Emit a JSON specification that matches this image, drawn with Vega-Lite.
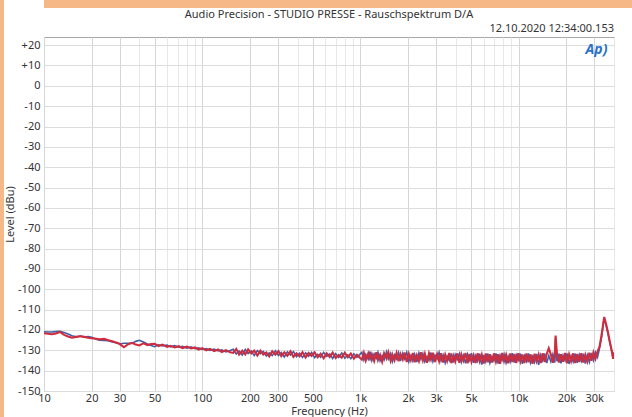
{
 "$schema": "https://vega.github.io/schema/vega-lite/v6.json",
 "padding": 0,
 "spacing": 0,
 "background": "white",
 "config": {"font": "Noto Sans", "view": {"stroke": "#a8a8a8", "strokeWidth": 1}, "concat": {"spacing": 0}},
 "hconcat": [
  {"width": 4, "height": 417, "view": {"fill": "#f6b887", "stroke": null},
   "data": {"values": [{"k": 0}]}, "mark": {"type": "point", "size": 0, "opacity": 0}, "encoding": {}},
  {"spacing": 0, "vconcat": [
   {"width": 628, "height": 8, "view": {"fill": "#f6b887", "stroke": null},
    "data": {"values": [{"k": 0}]}, "mark": {"type": "point", "size": 0, "opacity": 0}, "encoding": {}},
   {
    "width": 570, "height": 354,
    "data": {"values": [
  {"hz":10,"ch1":-120.9,"ch2":-121.6},{"hz":10.6,"ch1":-121.0,"ch2":-121.9},{"hz":11.2,"ch1":-121.0,"ch2":-122.1},{"hz":11.9,"ch1":-120.8,"ch2":-121.7},
  {"hz":12.6,"ch1":-120.7,"ch2":-121.0},{"hz":13.4,"ch1":-121.2,"ch2":-122.4},{"hz":14.2,"ch1":-122.0,"ch2":-123.2},{"hz":15,"ch1":-122.8,"ch2":-123.8},
  {"hz":16,"ch1":-123.3,"ch2":-123.4},{"hz":17,"ch1":-123.0,"ch2":-123.1},{"hz":18,"ch1":-123.5,"ch2":-123.4},{"hz":19,"ch1":-123.3,"ch2":-123.8},
  {"hz":20,"ch1":-123.6,"ch2":-124.0},{"hz":21.3,"ch1":-124.5,"ch2":-124.3},{"hz":22.5,"ch1":-125.0,"ch2":-124.6},{"hz":24,"ch1":-125.1,"ch2":-124.4},
  {"hz":25.5,"ch1":-125.3,"ch2":-125.0},{"hz":27,"ch1":-125.9,"ch2":-125.6},{"hz":28.5,"ch1":-126.3,"ch2":-126.2},{"hz":30,"ch1":-126.9,"ch2":-126.8},
  {"hz":32,"ch1":-126.5,"ch2":-128.5},{"hz":34,"ch1":-126.5,"ch2":-127.0},{"hz":36,"ch1":-126.6,"ch2":-126.3},{"hz":38,"ch1":-125.6,"ch2":-127.2},
  {"hz":40,"ch1":-125.1,"ch2":-127.6},{"hz":42.5,"ch1":-125.9,"ch2":-126.6},{"hz":45,"ch1":-126.9,"ch2":-127.4},{"hz":47.5,"ch1":-127.6,"ch2":-126.9},
  {"hz":50,"ch1":-128.2,"ch2":-126.8},{"hz":53,"ch1":-127.3,"ch2":-127.9},{"hz":56,"ch1":-127.8,"ch2":-127.2},{"hz":60,"ch1":-127.4,"ch2":-128.3},
  {"hz":63,"ch1":-128.3,"ch2":-127.8},{"hz":67,"ch1":-127.7,"ch2":-128.6},{"hz":71,"ch1":-128.5,"ch2":-128.0},{"hz":75,"ch1":-128.0,"ch2":-128.9},
  {"hz":80,"ch1":-128.9,"ch2":-128.2},{"hz":85,"ch1":-128.3,"ch2":-129.1},{"hz":90,"ch1":-129.2,"ch2":-128.6},{"hz":95,"ch1":-128.8,"ch2":-129.6},
  {"hz":100,"ch1":-129.6,"ch2":-128.9},{"hz":106,"ch1":-129.1,"ch2":-130.0},{"hz":112,"ch1":-130.0,"ch2":-129.3},{"hz":119,"ch1":-129.4,"ch2":-130.4},
  {"hz":126,"ch1":-130.3,"ch2":-129.6},{"hz":133,"ch1":-129.8,"ch2":-130.8},{"hz":141,"ch1":-130.8,"ch2":-129.9},{"hz":150,"ch1":-130.1,"ch2":-131.0},
  {"hz":157,"ch1":-129.5,"ch2":-131.3},{"hz":164,"ch1":-131.8,"ch2":-129.3},{"hz":171,"ch1":-130.3,"ch2":-132.1},{"hz":179,"ch1":-132.3,"ch2":-130.2},
  {"hz":187,"ch1":-129.6,"ch2":-132.0},{"hz":195,"ch1":-131.6,"ch2":-129.5},{"hz":204,"ch1":-130.3,"ch2":-131.5},{"hz":213,"ch1":-132.6,"ch2":-130.2},
  {"hz":223,"ch1":-130.1,"ch2":-132.6},{"hz":233,"ch1":-131.6,"ch2":-130.2},{"hz":243,"ch1":-130.5,"ch2":-132.1},{"hz":254,"ch1":-132.8,"ch2":-131.1},
  {"hz":265,"ch1":-131.3,"ch2":-133.0},{"hz":277,"ch1":-132.6,"ch2":-130.5},{"hz":290,"ch1":-130.2,"ch2":-132.1},{"hz":303,"ch1":-132.5,"ch2":-130.4},
  {"hz":316,"ch1":-131.1,"ch2":-132.9},{"hz":330,"ch1":-133.3,"ch2":-131.0},{"hz":345,"ch1":-130.7,"ch2":-132.7},{"hz":361,"ch1":-132.3,"ch2":-130.5},
  {"hz":377,"ch1":-130.6,"ch2":-133.2},{"hz":394,"ch1":-133.1,"ch2":-131.5},{"hz":412,"ch1":-131.5,"ch2":-133.0},{"hz":430,"ch1":-133.5,"ch2":-130.9},
  {"hz":450,"ch1":-131.2,"ch2":-133.5},{"hz":470,"ch1":-132.9,"ch2":-131.3},{"hz":491,"ch1":-131.0,"ch2":-132.8},{"hz":513,"ch1":-133.6,"ch2":-131.0},
  {"hz":536,"ch1":-132.0,"ch2":-133.4},{"hz":560,"ch1":-133.4,"ch2":-131.7},{"hz":585,"ch1":-131.0,"ch2":-133.9},{"hz":611,"ch1":-133.0,"ch2":-131.5},
  {"hz":639,"ch1":-131.8,"ch2":-133.3},{"hz":667,"ch1":-134.0,"ch2":-131.1},{"hz":697,"ch1":-131.6,"ch2":-133.8},{"hz":729,"ch1":-133.5,"ch2":-132.3},
  {"hz":761,"ch1":-131.3,"ch2":-133.6},{"hz":796,"ch1":-133.9,"ch2":-131.2},{"hz":831,"ch1":-132.3,"ch2":-133.4},{"hz":869,"ch1":-134.1,"ch2":-131.6},
  {"hz":908,"ch1":-131.7,"ch2":-134.1},{"hz":949,"ch1":-133.4,"ch2":-132.2},{"hz":991,"ch1":-132.0,"ch2":-133.7},
  {"hz":1020,"ch1":-131.0,"ch2":-134.6},{"hz":1050,"ch1":-134.8,"ch2":-131.2},{"hz":1080,"ch1":-132.0,"ch2":-135.0},{"hz":1120,"ch1":-134.4,"ch2":-131.5},
  {"hz":1150,"ch1":-130.6,"ch2":-134.2},{"hz":1180,"ch1":-135.1,"ch2":-131.9},{"hz":1220,"ch1":-131.7,"ch2":-135.3},{"hz":1260,"ch1":-133.8,"ch2":-131.0},
  {"hz":1290,"ch1":-131.0,"ch2":-134.7},{"hz":1330,"ch1":-135.2,"ch2":-132.2},{"hz":1370,"ch1":-132.6,"ch2":-135.6},{"hz":1410,"ch1":-134.7,"ch2":-131.4},
  {"hz":1460,"ch1":-130.7,"ch2":-134.0},{"hz":1500,"ch1":-134.3,"ch2":-130.9},{"hz":1550,"ch1":-131.6,"ch2":-135.1},{"hz":1590,"ch1":-135.6,"ch2":-132.0},
  {"hz":1640,"ch1":-132.2,"ch2":-134.9},{"hz":1690,"ch1":-134.2,"ch2":-131.3},{"hz":1740,"ch1":-131.1,"ch2":-135.4},{"hz":1790,"ch1":-135.3,"ch2":-131.8},
  {"hz":1850,"ch1":-131.4,"ch2":-134.5},{"hz":1900,"ch1":-134.1,"ch2":-131.1},{"hz":1960,"ch1":-131.0,"ch2":-135.7},{"hz":2020,"ch1":-135.6,"ch2":-131.6},
  {"hz":2080,"ch1":-132.7,"ch2":-134.8},{"hz":2140,"ch1":-135.2,"ch2":-131.3},{"hz":2200,"ch1":-131.9,"ch2":-135.9},{"hz":2270,"ch1":-135.8,"ch2":-132.4},
  {"hz":2340,"ch1":-131.3,"ch2":-135.3},{"hz":2410,"ch1":-134.4,"ch2":-131.0},{"hz":2480,"ch1":-131.6,"ch2":-135.0},{"hz":2550,"ch1":-135.6,"ch2":-131.7},
  {"hz":2630,"ch1":-133.1,"ch2":-136.1},{"hz":2710,"ch1":-135.0,"ch2":-131.5},{"hz":2790,"ch1":-131.1,"ch2":-134.6},{"hz":2870,"ch1":-135.5,"ch2":-131.2},
  {"hz":2960,"ch1":-132.4,"ch2":-135.8},{"hz":3050,"ch1":-134.2,"ch2":-131.9},{"hz":3140,"ch1":-131.0,"ch2":-135.4},{"hz":3230,"ch1":-135.2,"ch2":-131.4},
  {"hz":3330,"ch1":-132.3,"ch2":-136.0},{"hz":3430,"ch1":-136.2,"ch2":-132.1},{"hz":3530,"ch1":-132.9,"ch2":-135.2},{"hz":3640,"ch1":-135.0,"ch2":-131.3},
  {"hz":3750,"ch1":-131.5,"ch2":-136.3},{"hz":3860,"ch1":-136.0,"ch2":-132.6},{"hz":3970,"ch1":-132.1,"ch2":-135.5},{"hz":4090,"ch1":-134.4,"ch2":-131.5},
  {"hz":4220,"ch1":-131.6,"ch2":-136.1},{"hz":4340,"ch1":-135.8,"ch2":-132.0},{"hz":4470,"ch1":-132.5,"ch2":-135.0},{"hz":4610,"ch1":-136.4,"ch2":-131.3},
  {"hz":4750,"ch1":-131.9,"ch2":-136.4},{"hz":4890,"ch1":-134.8,"ch2":-131.8},{"hz":5030,"ch1":-131.4,"ch2":-135.7},{"hz":5190,"ch1":-136.1,"ch2":-132.4},
  {"hz":5340,"ch1":-132.6,"ch2":-136.2},{"hz":5500,"ch1":-135.3,"ch2":-131.4},{"hz":5670,"ch1":-131.7,"ch2":-135.4},{"hz":5840,"ch1":-137.0,"ch2":-132.1},
  {"hz":6010,"ch1":-132.3,"ch2":-136.5},{"hz":6190,"ch1":-135.6,"ch2":-131.6},{"hz":6380,"ch1":-131.6,"ch2":-135.9},{"hz":6570,"ch1":-136.3,"ch2":-132.0},
  {"hz":6770,"ch1":-133.0,"ch2":-136.0},{"hz":6970,"ch1":-135.2,"ch2":-131.5},{"hz":7180,"ch1":-131.5,"ch2":-135.6},{"hz":7400,"ch1":-136.5,"ch2":-131.9},
  {"hz":7620,"ch1":-132.4,"ch2":-136.6},{"hz":7850,"ch1":-134.9,"ch2":-131.3},{"hz":8080,"ch1":-131.8,"ch2":-135.3},{"hz":8320,"ch1":-136.2,"ch2":-132.2},
  {"hz":8570,"ch1":-132.9,"ch2":-136.4},{"hz":8830,"ch1":-135.7,"ch2":-131.6},{"hz":9100,"ch1":-131.4,"ch2":-135.8},{"hz":9370,"ch1":-136.0,"ch2":-131.8},
  {"hz":9650,"ch1":-132.2,"ch2":-136.2},{"hz":9940,"ch1":-134.8,"ch2":-131.4},{"hz":10240,"ch1":-131.6,"ch2":-135.5},{"hz":10550,"ch1":-136.6,"ch2":-132.0},
  {"hz":10860,"ch1":-132.7,"ch2":-136.3},{"hz":11190,"ch1":-135.4,"ch2":-131.5},{"hz":11520,"ch1":-131.5,"ch2":-135.9},{"hz":11870,"ch1":-136.2,"ch2":-131.9},
  {"hz":12230,"ch1":-133.1,"ch2":-136.6},{"hz":12590,"ch1":-135.9,"ch2":-131.7},{"hz":12970,"ch1":-131.8,"ch2":-135.4},{"hz":13360,"ch1":-137.1,"ch2":-132.1},
  {"hz":13760,"ch1":-132.3,"ch2":-136.2},{"hz":14170,"ch1":-135.1,"ch2":-131.4},{"hz":14600,"ch1":-131.6,"ch2":-135.7},{"hz":15030,"ch1":-136.3,"ch2":-131.8},
  {"hz":15480,"ch1":-132.6,"ch2":-129.0},{"hz":15950,"ch1":-135.5,"ch2":-132.0},{"hz":16430,"ch1":-131.9,"ch2":-136.1},{"hz":16920,"ch1":-136.0,"ch2":-131.6},
  {"hz":17100,"ch1":-123.8,"ch2":-122.8},{"hz":17430,"ch1":-135.4,"ch2":-131.5},{"hz":17950,"ch1":-131.7,"ch2":-136.0},{"hz":18490,"ch1":-136.4,"ch2":-131.9},
  {"hz":19040,"ch1":-132.5,"ch2":-135.6},{"hz":19610,"ch1":-135.0,"ch2":-131.3},{"hz":20200,"ch1":-131.5,"ch2":-136.4},{"hz":20810,"ch1":-136.7,"ch2":-132.0},
  {"hz":21430,"ch1":-132.8,"ch2":-135.3},{"hz":22070,"ch1":-135.6,"ch2":-131.5},{"hz":22730,"ch1":-131.6,"ch2":-136.2},{"hz":23420,"ch1":-136.2,"ch2":-131.8},
  {"hz":24120,"ch1":-132.2,"ch2":-135.8},{"hz":24840,"ch1":-135.3,"ch2":-131.4},{"hz":25590,"ch1":-131.7,"ch2":-136.0},{"hz":26350,"ch1":-136.5,"ch2":-132.2},
  {"hz":27140,"ch1":-132.4,"ch2":-135.5},{"hz":27960,"ch1":-135.8,"ch2":-131.2},{"hz":28800,"ch1":-131.3,"ch2":-135.1},{"hz":29660,"ch1":-134.9,"ch2":-131.0},
  {"hz":30550,"ch1":-131.0,"ch2":-134.2},{"hz":31470,"ch1":-133.4,"ch2":-130.6},{"hz":32410,"ch1":-129.0,"ch2":-128.2},{"hz":33380,"ch1":-123.5,"ch2":-122.5},
  {"hz":34400,"ch1":-116.0,"ch2":-115.5},{"hz":34700,"ch1":-114.2,"ch2":-113.6},{"hz":35600,"ch1":-117.5,"ch2":-117.0},{"hz":36600,"ch1":-121.5,"ch2":-121.0},
  {"hz":37700,"ch1":-126.5,"ch2":-126.0},{"hz":38800,"ch1":-131.0,"ch2":-130.5},{"hz":39500,"ch1":-134.0,"ch2":-134.2},{"hz":40000,"ch1":-131.5,"ch2":-131.0}
    ]},
    "layer": [
     {
      "mark": {"type": "line", "color": "#3e5ea8", "strokeWidth": 1.6, "clip": true},
      "encoding": {
       "x": {"field": "hz", "type": "quantitative",
        "scale": {"type": "log", "domain": [10, 40000], "nice": false},
        "axis": {
         "values": [10,20,30,40,50,60,70,80,90,100,200,300,400,500,600,700,800,900,1000,2000,3000,4000,5000,6000,7000,8000,9000,10000,20000,30000,40000],
         "tickCount": 100,
         "labelExpr": "indexof([10,20,30,50,100,200,300,500,1000,2000,3000,5000,10000,20000,30000], datum.value) >= 0 ? (datum.value >= 1000 ? (datum.value/1000) + 'k' : '' + datum.value) : ''",
         "tickSize": 0, "domain": false, "labelPadding": 1, "labelFontSize": 11, "labelColor": "#333333",
         "labelFlush": false, "labelOverlap": false, "labelBound": false,
         "title": "Frequency (Hz)", "titleFontSize": 11, "titleFontWeight": "normal", "titleColor": "#333333", "titlePadding": 2,
         "gridColor": {"condition": {"test": "indexof([10,20,30,50,100,200,300,500,1000,2000,3000,5000,10000,20000,30000], datum.value) >= 0", "value": "#d6d6d6"}, "value": "#e8e8e8"}
        }},
       "y": {"field": "ch1", "type": "quantitative",
        "scale": {"domain": [-150, 24], "nice": false, "zero": false},
        "axis": {
         "values": [-150,-140,-130,-120,-110,-100,-90,-80,-70,-60,-50,-40,-30,-20,-10,0,10,20],
         "tickCount": 100,
         "labelExpr": "datum.value > 0 ? '+' + datum.value : '' + datum.value",
         "tickSize": 0, "domain": false, "labelPadding": 4, "labelFontSize": 11, "labelColor": "#333333",
         "labelFlush": false, "labelBound": false, "labelOverlap": false,
         "title": "Level (dBu)", "titleFontSize": 11, "titleFontWeight": "normal", "titleColor": "#333333", "titlePadding": 2,
         "gridColor": "#dcdcdc"
        }}
      }
     },
     {
      "mark": {"type": "line", "color": "#cf2c3e", "strokeWidth": 2.1, "clip": true},
      "encoding": {
       "x": {"field": "hz", "type": "quantitative"},
       "y": {"field": "ch2", "type": "quantitative"}
      }
     },
     {
      "data": {"values": [{"label": "Audio Precision - STUDIO PRESSE - Rauschspektrum D/A"}]},
      "mark": {"type": "text", "align": "center", "baseline": "bottom", "dy": -17, "fontSize": 11, "color": "#333333"},
      "encoding": {
       "x": {"datum": 632.46, "type": "quantitative"},
       "y": {"datum": 24, "type": "quantitative"},
       "text": {"field": "label"}
      }
     },
     {
      "data": {"values": [{"label": "12.10.2020 12:34:00.153"}]},
      "mark": {"type": "text", "align": "right", "baseline": "bottom", "dy": -3, "fontSize": 11, "color": "#333333"},
      "encoding": {
       "x": {"datum": 40000, "type": "quantitative"},
       "y": {"datum": 24, "type": "quantitative"},
       "text": {"field": "label"}
      }
     },
     {
      "data": {"values": [{"label": "Ap)"}]},
      "mark": {"type": "text", "align": "center", "baseline": "middle", "fontSize": 14, "fontStyle": "italic", "fontWeight": "bold", "color": "#2a72c8"},
      "encoding": {
       "x": {"datum": 31000, "type": "quantitative"},
       "y": {"datum": 17.5, "type": "quantitative"},
       "text": {"field": "label"}
      }
     }
    ]
   }
  ]}
 ]
}
